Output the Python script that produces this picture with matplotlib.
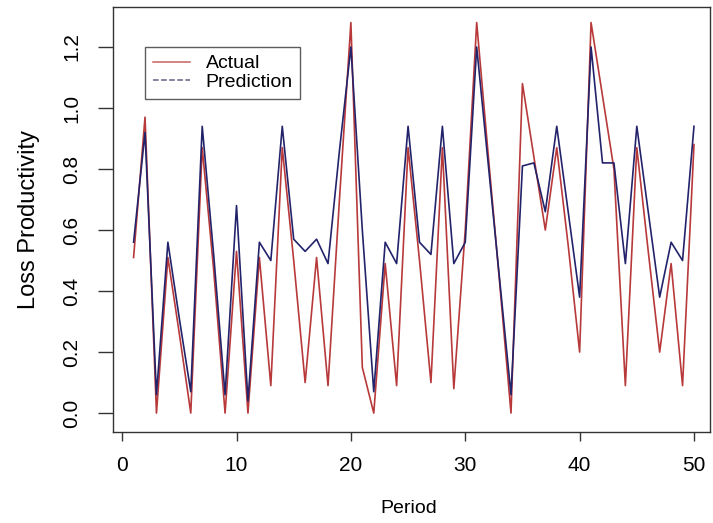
import matplotlib.pyplot as plt
from matplotlib.lines import Line2D

plt.rcParams["font.family"] = ["Liberation Sans", "DejaVu Sans"]

# Data
periods = list(range(1, 51))
actual = [
    0.51, 0.97, 0.00, 0.51, 0.26, 0.00, 0.87, 0.47, 0.00, 0.53,
    0.00, 0.51, 0.09, 0.87, 0.50, 0.10, 0.51, 0.09, 0.70, 1.28,
    0.15, 0.00, 0.49, 0.09, 0.87, 0.50, 0.10, 0.87, 0.08, 0.60,
    1.28, 0.85, 0.43, 0.00, 1.08, 0.84, 0.60, 0.87, 0.55, 0.20,
    1.28, 1.04, 0.80, 0.09, 0.87, 0.53, 0.20, 0.49, 0.09, 0.88,
]
prediction = [
    0.56, 0.92, 0.06, 0.56, 0.31, 0.07, 0.94, 0.52, 0.06, 0.68,
    0.04, 0.56, 0.50, 0.94, 0.57, 0.53, 0.57, 0.49, 0.86, 1.20,
    0.60, 0.07, 0.56, 0.49, 0.94, 0.56, 0.52, 0.94, 0.49, 0.56,
    1.20, 0.82, 0.44, 0.06, 0.81, 0.82, 0.66, 0.94, 0.66, 0.38,
    1.20, 0.82, 0.82, 0.49, 0.94, 0.66, 0.38, 0.56, 0.50, 0.94,
]
x_ticks = [0, 10, 20, 30, 40, 50]
y_ticks = [0.0, 0.2, 0.4, 0.6, 0.8, 1.0, 1.2]
y_tick_labels = ["0.0", "0.2", "0.4", "0.6", "0.8", "1.0", "1.2"]

RED = "#b8393a"
BLUE = "#23236b"
FRAME = "#333333"

fig = plt.figure(figsize=(7.13, 5.23), dpi=100)
ax = fig.add_axes([113 / 713, 1 - 432 / 523, 597 / 713, 425 / 523])

ax.plot(periods, actual, color=RED, linewidth=1.2)
ax.plot(periods, prediction, color=BLUE, linewidth=1.2)

ax.set_xlim(-0.8, 51.4)
ax.set_ylim(-0.062, 1.331)
ax.set_xticks(x_ticks)
ax.set_yticks(y_ticks)
ax.set_yticklabels(y_tick_labels, rotation=90, va="center")

for sp in ax.spines.values():
    sp.set_color(FRAME)
    sp.set_linewidth(1.0)

ax.tick_params(axis="x", length=6.5, pad=11, labelsize=15, color=FRAME, width=1)
ax.tick_params(axis="y", length=11, pad=12, labelsize=15, color=FRAME, width=1)

ax.set_xlabel("Period", fontsize=14, va="center")
ax.xaxis.set_label_coords(0.496, -0.179)
ax.set_ylabel("Loss Productivity", fontsize=17, va="center")
ax.yaxis.set_label_coords(-0.14, 0.5)

handles = [
    Line2D([], [], color="#c86060", linewidth=1.1, linestyle="-"),
    Line2D([], [], color="#606080", linewidth=1.1, linestyle="--"),
]
leg = ax.legend(
    handles, ["Actual", "Prediction"],
    loc="upper left", bbox_to_anchor=(0.054, 0.906), borderaxespad=0,
    fontsize=14, frameon=True, fancybox=False, labelspacing=0.05,
    handlelength=1.9, handletextpad=0.8, borderpad=0.4,
)
leg.get_frame().set_edgecolor(FRAME)
leg.get_frame().set_linewidth(1.0)

fig.savefig("out.png", dpi=100)
